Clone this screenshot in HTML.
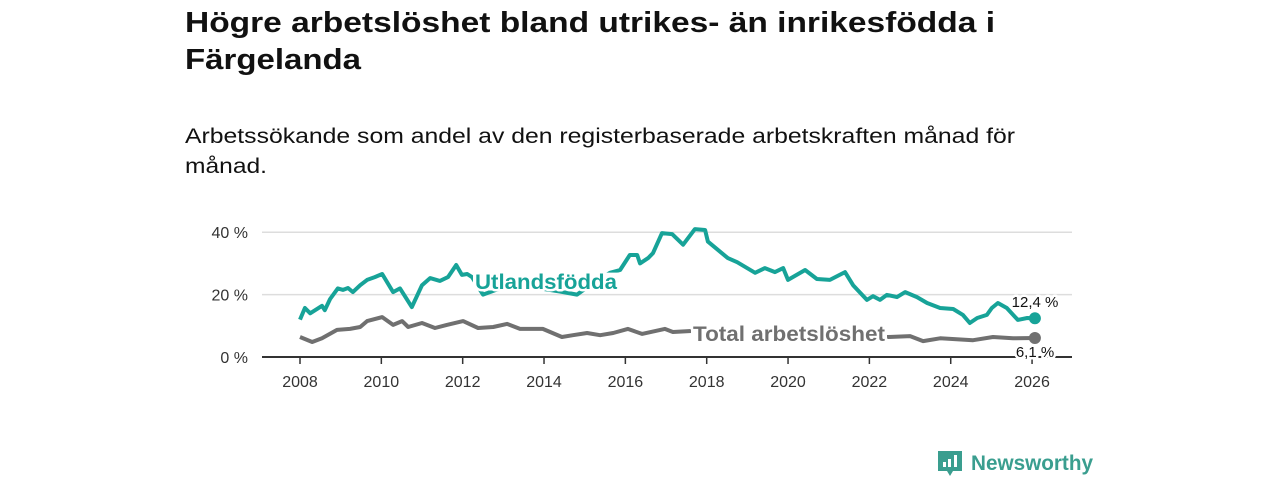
<!DOCTYPE html>
<html><head><meta charset="utf-8"><style>
body{margin:0;background:#fff;width:1280px;height:480px;overflow:hidden;font-family:"Liberation Sans",sans-serif}
svg{display:block}
</style></head><body>
<svg width="1280" height="480">
<text x="185" y="32" font-size="29" font-weight="bold" fill="#111" textLength="810" lengthAdjust="spacingAndGlyphs">Högre arbetslöshet bland utrikes- än inrikesfödda i</text>
<text x="185" y="69" font-size="29" font-weight="bold" fill="#111" textLength="176" lengthAdjust="spacingAndGlyphs">Färgelanda</text>
<text x="185" y="143" font-size="21" fill="#111" textLength="830" lengthAdjust="spacingAndGlyphs">Arbetssökande som andel av den registerbaserade arbetskraften månad för</text>
<text x="185" y="173" font-size="21" fill="#111" textLength="82" lengthAdjust="spacingAndGlyphs">månad.</text>
<g id="grid"></g><g id="lines"></g><g id="labels"></g>
<g>
<path d="M938 451h24v20h-9l-3 5l-3-5h-9z" fill="#3a9e8f"/>
<rect x="943" y="462" width="3" height="5" fill="#fff"/><rect x="948" y="459" width="3" height="8" fill="#fff"/><rect x="954" y="455" width="3" height="12" fill="#fff"/>
<text x="971" y="470" font-size="21" font-weight="bold" fill="#3a9e8f" textLength="122" lengthAdjust="spacingAndGlyphs">Newsworthy</text>
</g>
</svg>
<script>
const utlYears=[0,.12,.25,.54,.61,.74,.93,1.06,1.18,1.30,1.48,1.65,1.84,2.02,2.29,2.46,2.75,3.00,3.20,3.44,3.64,3.84,3.98,4.11,4.23,4.50,4.92,5.41,5.90,6.39,6.81,7.13,7.62,7.87,8.11,8.29,8.36,8.56,8.68,8.90,9.15,9.42,9.71,9.96,10.03,10.52,10.75,11.19,11.43,11.68,11.88,12.00,12.42,12.71,13.03,13.40,13.60,13.94,14.09,14.26,14.43,14.68,14.88,15.17,15.42,15.74,16.06,16.30,16.47,16.65,16.89,17.01,17.16,17.38,17.65,17.88,18.07];
const utlValues=[12,15.7,14,16.4,15,18.6,22,21.5,22.1,20.8,23,24.7,25.6,26.6,20.8,22,16,23,25.3,24.4,25.6,29.5,26.3,26.6,25.6,20,22,23,22,21,20,23,27,27.9,32.7,32.7,30,31.7,33.3,39.7,39.4,36,41,40.7,37,31.7,30.4,27,28.5,27.2,28.5,24.7,27.9,25,24.7,27.2,23,18.3,19.5,18.3,19.9,19.2,20.8,19.2,17.3,15.7,15.4,13.5,10.9,12.5,13.5,15.7,17.3,15.7,11.9,12.5,12.4];
const totYears=[0,.30,.54,.91,1.23,1.48,1.65,2.02,2.29,2.51,2.66,3.00,3.32,3.61,4.01,4.38,4.75,5.09,5.41,5.97,6.44,6.71,7.06,7.38,7.70,8.06,8.41,8.97,9.17,9.84,10.57,11.31,12.29,13.28,14.02,14.46,15.00,15.32,15.74,16.55,17.04,17.53,18.07];
const totValues=[6.4,4.8,6,8.7,9,9.6,11.5,12.8,10.3,11.5,9.6,10.9,9.3,10.3,11.5,9.3,9.6,10.6,9,9,6.4,7,7.7,7,7.7,9,7.4,9,8,8.5,7.5,7.5,7.5,7,6.5,6.4,6.7,5.1,6,5.4,6.4,6,6.1];
const yTicks=[0,20,40];
const xTicks=[2008,2010,2012,2014,2016,2018,2020,2022,2024,2026];
const NS="http://www.w3.org/2000/svg";
const X=y=>300+(y-2008)*40.67, Y=v=>357-v*3.12;
function mk(t,a,p){const e=document.createElementNS(NS,t);for(const k in a)e.setAttribute(k,a[k]);p.appendChild(e);return e;}
const grid=document.getElementById('grid'),lines=document.getElementById('lines'),labels=document.getElementById('labels');
yTicks.forEach(v=>{
 if(v>0){const g=mk('line',{x1:262,x2:1072,y1:Y(v),y2:Y(v),stroke:'#ddd','stroke-width':1.5},grid);
 
 }
 const t=mk('text',{x:248,y:Y(v)+6,'text-anchor':'end','font-size':16,fill:'#333'},grid);t.textContent=v+' %';
 
 
});
const ax=mk('line',{x1:262,x2:1072,y1:357,y2:357,stroke:'#333','stroke-width':2},grid);


xTicks.forEach(yr=>{
 mk('line',{x1:X(yr),x2:X(yr),y1:357,y2:364,stroke:'#333','stroke-width':1.5},grid);
 const t=mk('text',{x:X(yr),y:387,'text-anchor':'middle','font-size':16,fill:'#333'},grid);t.textContent=yr;
 
 
});
function line(ys,vs,col,name){
 const d=ys.map((y,i)=>(i?'L':'M')+X(2008+y).toFixed(1)+' '+Y(vs[i]).toFixed(1)).join('');
 const p=mk('path',{d:d,fill:'none',stroke:col,'stroke-width':4,'stroke-linejoin':'round'},lines);
 
 
 const c=mk('circle',{cx:X(2008+ys[ys.length-1]),cy:Y(vs[vs.length-1]),r:6,fill:col},lines);
 
 
}
line(totYears,totValues,'#707070','total-line');
line(utlYears,utlValues,'#17a398','utlandsfodda-line');
function lab(txt,x,y,col,sz,bold,name,anchor,len){
 if(len){const r=mk('rect',{x:x-2,y:y-sz*0.78,width:len+4,height:sz*0.85,fill:'#fff'},labels);
 
 }
 const a={x:x,y:y,'font-size':sz,fill:col,stroke:'#fff','stroke-width':5,'paint-order':'stroke','stroke-linejoin':'round','text-anchor':anchor||'start'};
 if(bold)a['font-weight']='bold';
 if(len){a.textLength=len;a.lengthAdjust='spacingAndGlyphs';}
 const t=mk('text',a,labels);t.textContent=txt;
 
 
}
lab('Utlandsfödda',475,289,'#17a398',21,true,'utlandsfodda-label',null,142);
lab('Total arbetslöshet',693,341,'#707070',21,true,'total-label',null,192);
lab('12,4 %',1035,307,'#111',15,false,'utlandsfodda-value','middle');
lab('6,1 %',1035,357,'#111',15,false,'total-value','middle');
</script>
</body></html>
